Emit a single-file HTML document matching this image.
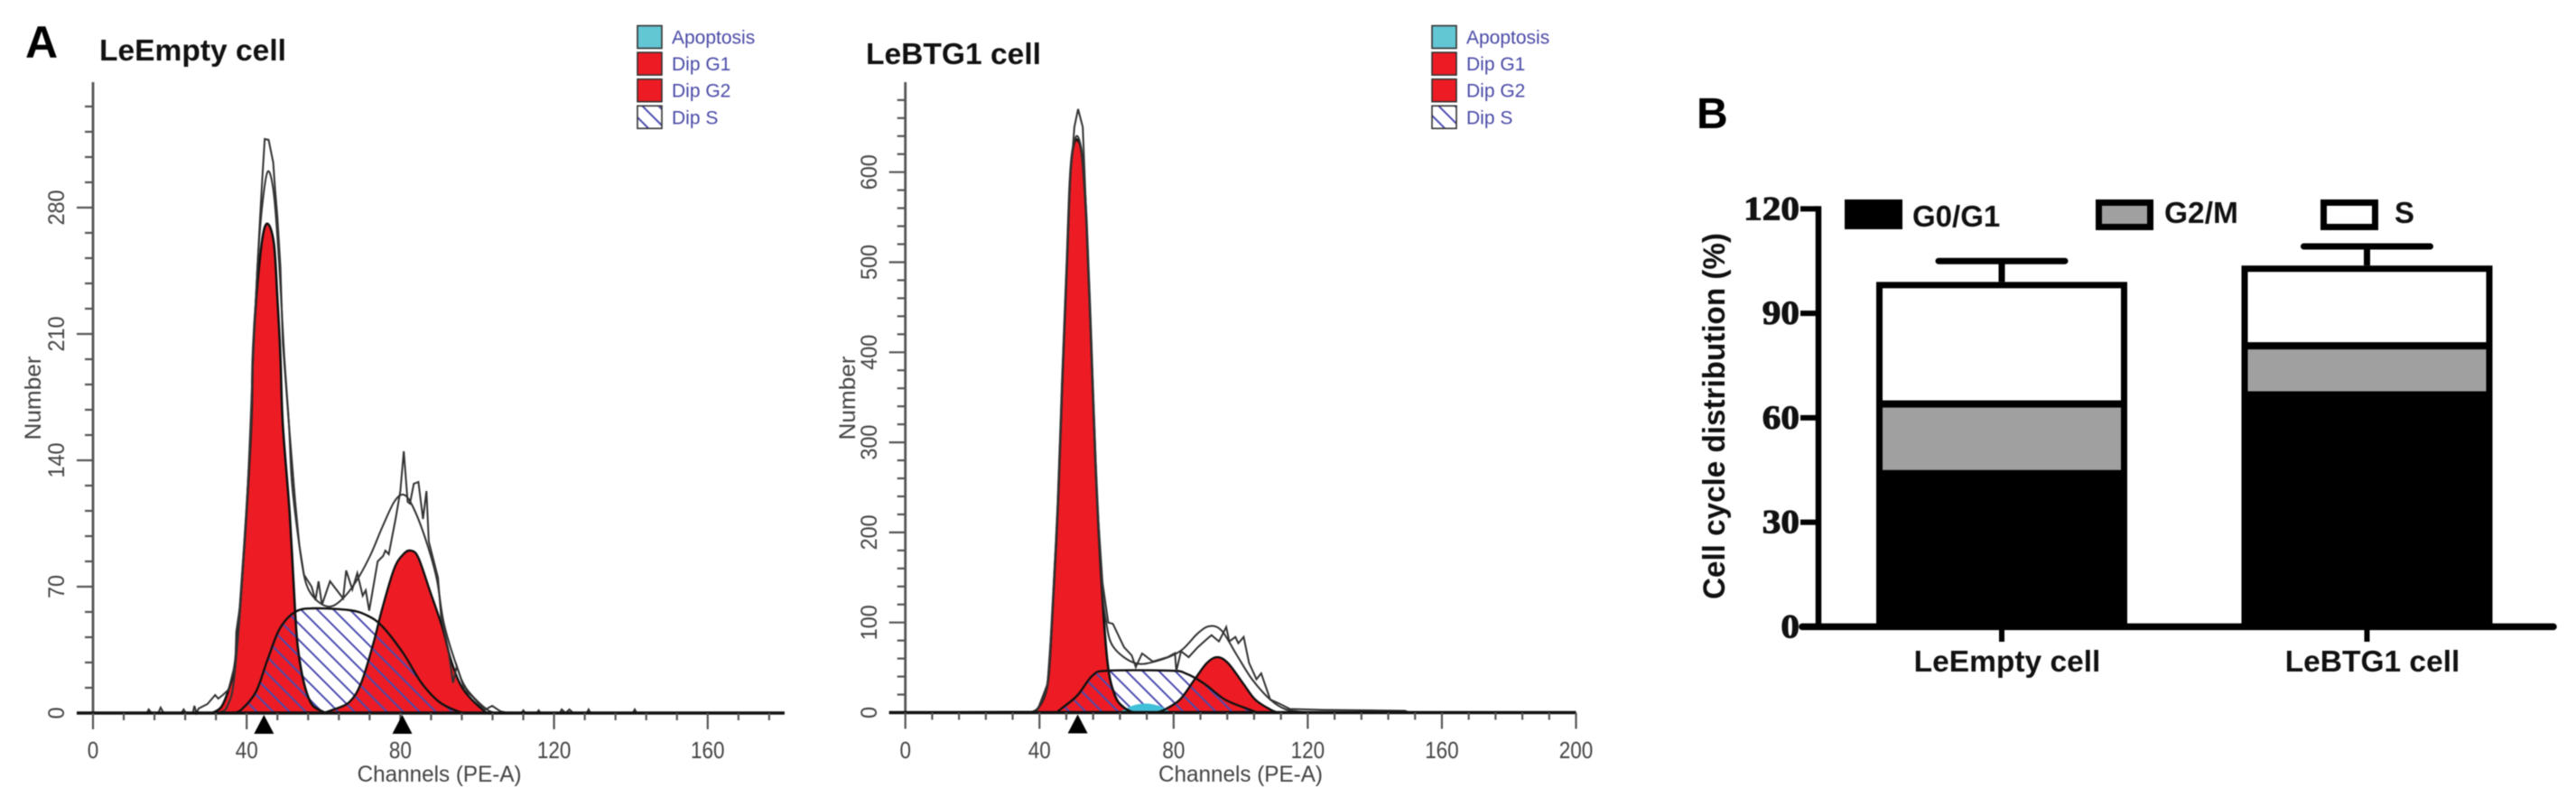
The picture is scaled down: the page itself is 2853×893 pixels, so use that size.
<!DOCTYPE html>
<html>
<head>
<meta charset="utf-8">
<title>Cell cycle flow cytometry figure</title>
<style>
html,body{margin:0;padding:0;background:#fff;width:2853px;height:893px;overflow:hidden}
svg{display:block;filter:blur(0.5px)}
text{font-family:"Liberation Sans",sans-serif}
</style>
</head>
<body>
<svg id="fig" xmlns="http://www.w3.org/2000/svg" width="2853" height="893" viewBox="0 0 2853 893">
<defs>
<pattern id="hatch" patternUnits="userSpaceOnUse" width="18" height="18">
<path d="M-2,-2 L20,20 M-20,-2 L2,20 M16,-2 L38,20" stroke="#4b4bb0" stroke-width="2" fill="none"/>
</pattern>
</defs>
<rect x="0" y="0" width="2853" height="893" fill="#fff"/>
<text x="28" y="64" font-size="50" font-weight="bold" fill="#000">A</text>
<text x="110" y="67" font-size="33.5" font-weight="bold" fill="#111" textLength="207" lengthAdjust="spacingAndGlyphs">LeEmpty cell</text>
<text x="959" y="71" font-size="33.5" font-weight="bold" fill="#111" textLength="194" lengthAdjust="spacingAndGlyphs">LeBTG1 cell</text>
<text x="1879" y="142" font-size="48" font-weight="bold" fill="#000">B</text>
<text transform="rotate(-90 1910 461)" x="1910" y="461" font-size="34" font-weight="bold" fill="#111" text-anchor="middle" textLength="406" lengthAdjust="spacingAndGlyphs">Cell cycle distribution (%)</text>
</svg>
<script>
// ---- Panel A-left: LeEmpty flow histogram (channel, count) ----
const emptyRawX = [0,14,14.5,15.2,17,17.6,18.4,23,23.6,24.2,26,26.4,26.9,27.5,29.8,31.8,32.6,33.8,35.3,36.7,37,37.3,38.3,39.9,41.2,41.6,42.8,43.5,44.1,44.7,45.7,46.9,47.4,48,48.8,49.4,51,52.6,53.7,54.9,56.9,57.9,58.7,59.6,61.7,65.1,65.9,67.5,68.8,70.2,71,71.9,74.1,75.5,76.1,77,78.8,80,80.9,81.9,82.5,83.5,84.7,85.9,86.8,87.4,89.8,90.6,92.5,93.7,94.7,96.7,98.8,101.9,103.9,106,108,111.5,112,112.5,115.5,116,116.5,121.5,122,123,124,125,128.5,129,129.5,140.5,141,141.5,180];
const emptyRawY = [0,0,2,0,0,3,0,0,2,0,0,4,0,2.5,5,10,8,10,13,25,25,45,60,110,160,197,247,275,297,318,317.5,305,290,275,247,205,160,118,93,76.7,70,62.5,73,60,73,63.5,79,68.5,77.5,65,68,56.7,84,87,90,88,108,123,145,117,116,127,128,107.5,123,95,75,53.5,35,16.7,26,13,9,1.7,4,1,0,0,1.5,0,0,1.5,0,0,2,0,2,0,0,2,0,0,2,0,0];
const emptyFitX = [33,35,37,39.9,41.7,42.8,44,45.5,47.1,48.5,49.8,51,51.8,53.7,55.3,57.7,61.2,64.3,68.2,72.1,75.3,78.4,80.8,83.1,86.3,89.4,91.3,94.5,97.2,102.7,106];
const emptyFitY = [0.5,4,24,110,197,247,280,300,287,247,197,160,127,93,73,63.5,59,62,72,87,103,117,121,115,98,75,50,27,13.5,1.7,0];
const emptyG1X = [31,33.4,35.3,36.9,38.3,39.9,41.2,41.6,42.5,44.1,45.5,47.1,48,48.8,49.4,51.2,52.6,53.3,54.9,56.9,59.6,61];
const emptyG1Y = [0,3.4,13,26.7,60,110,160,197,230,263,271,260,230,197,160,110,56.7,36.7,16.7,5,1,0];
const emptySX = [36,38.5,42.4,45.5,48.6,52.6,57.3,66.7,71.4,75.3,80.8,85.5,90.2,94.9,97];
const emptySY = [0,1.7,11.7,30,46.7,56,58,57,54,48,33,16.7,6,1,0];
const emptyG2X = [60,62,66.7,69.8,72.9,75.3,78.4,80.8,82.7,84.7,87.8,91,93.3,96.4,101.9,104];
const emptyG2Y = [0,1.5,6,16.7,38,58,80,88,90,86,67,47,28.5,13,1,0];
const emptyMarkers = [44.5,80.5];
const emptyXTicks = [0,40,80,120,160];
const emptyYTicks = [0,70,140,210,280];

// ---- Panel A-right: LeBTG1 flow histogram ----
const btgRawX = [0,30,38.8,39.7,42.4,43.7,45.5,46.8,48.2,49.1,50,50.4,51.5,52.9,54,55.4,57.2,58.8,60.5,61.9,65.2,67.5,68.7,70.6,73.8,78.2,80.4,80.8,82.2,84.5,87.2,89.9,91.3,93.5,95.7,96.6,98.4,99.3,100.9,102.5,104.7,106.1,108.8,111.5,114.7,124.5,149,150,200];
const btgRawY = [0,1,1,5.5,32,100,233,368,502,592,630,650,670,650,546,412,234,144,100,98.5,72.5,63.5,50.5,65.6,56.7,61.5,66,46,68,61.5,72.5,81.6,86,79,95,79,84,77,84,55,37,43.6,14.5,10,4,3,2,0.5,0];
const btgFitX = [38.8,39.7,42.4,43.7,45.5,46.8,48.2,49.1,50,51.3,52.7,54,55.4,56.7,58.5,59.9,62.1,68.4,74.7,81.9,87.2,90.8,94.4,98.9,103.4,108.8,113.5,119];
const btgFitY = [0.5,5.5,32,100,233,368,502,592,627,640,618,546,412,278,150,100,72.5,55,57,68,88,96,90.7,63.5,37,14.5,3.5,0.5];
const btgG1X = [37,39.7,42.4,43.7,45.5,46.8,48.2,49.1,50,51.3,52.7,54,55.4,56.7,58.5,60.3,62.5,65.2,68];
const btgG1Y = [0,5.5,32,100,233,368,502,592,627,636,618,546,412,278,144,55,19,5.5,0];
const btgSX = [45,46.9,51.3,55.8,60.3,79.2,83.6,89,95.3,102.5,105];
const btgSY = [0,5.5,19,41,46.5,46.5,43.5,32.5,14.5,3.5,0];
const btgG2X = [75,77.4,81.9,86.3,89.9,93,96.2,100.7,104.3,108.8,111];
const btgG2Y = [0,3.5,14.5,37,55,61.5,55,32.5,14.5,3.5,0];
const btgApopX = [63,64.5,68,72,76,79,80];
const btgApopY = [0,2,8,10,7,1,0];
const btgMarkers = [51.4];
const btgXTicks = [0,40,80,120,160,200];
const btgYTicks = [0,100,200,300,400,500,600];

// ---- Legend of the flow panels ----
const flowLegendLabels = ['Apoptosis','Dip G1','Dip G2','Dip S'];
const flowLegendFills = ['#63c6d3','#ed1c24','#ed1c24','hatch'];

// ---- Panel B: stacked bars ----
const barCategories = ['LeEmpty cell','LeBTG1 cell'];
const g0g1Values = [45,67.6];
const g2mValues = [20,14.1];
const sValues = [34,22];
const errorValues = [6,5.5];
const barYTicks = [0,30,60,90,120];

const svg = document.getElementById('fig');
const NS = 'http://www.w3.org/2000/svg';
function el(tag, attrs, text) {
  const e = document.createElementNS(NS, tag);
  for (const k in attrs) e.setAttribute(k, attrs[k]);
  if (text !== undefined) e.textContent = text;
  svg.appendChild(e);
  return e;
}
function linePath(xs, ys, fx, fy) {
  return xs.map((c, i) => (i ? 'L' : 'M') + fx(c).toFixed(1) + ',' + fy(ys[i]).toFixed(1)).join(' ');
}
function smoothPath(xs, ys, fx, fy) {
  const p = xs.map((c, i) => [fx(c), fy(ys[i])]);
  let d = 'M' + p[0][0].toFixed(1) + ',' + p[0][1].toFixed(1);
  for (let i = 0; i < p.length - 1; i++) {
    const a = p[Math.max(0, i - 1)], b = p[i], c = p[i + 1], e = p[Math.min(p.length - 1, i + 2)];
    const c1x = b[0] + (c[0] - a[0]) / 6, c1y = b[1] + (c[1] - a[1]) / 6;
    const c2x = c[0] - (e[0] - b[0]) / 6, c2y = c[1] - (e[1] - b[1]) / 6;
    d += ' C' + c1x.toFixed(1) + ',' + c1y.toFixed(1) + ' ' + c2x.toFixed(1) + ',' + c2y.toFixed(1) + ' ' + c[0].toFixed(1) + ',' + c[1].toFixed(1);
  }
  return d;
}

function drawFlowPanel(cfg) {
  const fx = cfg.fx, fy = cfg.fy, x0 = fx(0), y0 = fy(0);
  const sArea = smoothPath(cfg.sX, cfg.sY, fx, fy);
  const g1Area = smoothPath(cfg.g1X, cfg.g1Y, fx, fy);
  const g2Area = smoothPath(cfg.g2X, cfg.g2Y, fx, fy);

  const sBack = el('path', {d: sArea + ' Z', fill: '#fff'});
  
  

  const g1 = el('path', {d: g1Area + ' Z', fill: '#ed1c24'});
  
  

  const g2 = el('path', {d: g2Area + ' Z', fill: '#ed1c24'});
  
  

  const sHatch = el('path', {d: sArea + ' Z', fill: 'url(#hatch)'});
  
  

  if (cfg.apopX) {
    const ap = el('path', {d: smoothPath(cfg.apopX, cfg.apopY, fx, fy) + ' Z', fill: '#40c0d8'});
    
    
  }

  const g1Line = el('path', {d: g1Area, fill: 'none', stroke: '#111', 'stroke-width': 2.6});
  
  

  const g2Line = el('path', {d: g2Area, fill: 'none', stroke: '#111', 'stroke-width': 2.4});
  
  

  const sLine = el('path', {d: sArea, fill: 'none', stroke: '#111', 'stroke-width': 2.4});
  
  

  const fit = el('path', {d: smoothPath(cfg.fitX, cfg.fitY, fx, fy), fill: 'none', stroke: '#333', 'stroke-width': 2});
  
  

  const raw = el('path', {d: linePath(cfg.rawX, cfg.rawY, fx, fy), fill: 'none', stroke: '#333', 'stroke-width': 2});
  
  

  // y axis
  const yAxis = el('line', {x1: x0, x2: x0, y1: cfg.topY, y2: y0 + 1, stroke: '#555', 'stroke-width': 2.8});
  
  

  for (let v = 0; fy(v) >= cfg.topY + 8; v += cfg.yMinor) {
    const isMajor = cfg.yTicks.indexOf(v) >= 0;
    const t = el('line', {x1: x0 - (isMajor ? 18 : 9), x2: x0, y1: fy(v), y2: fy(v), stroke: '#555', 'stroke-width': 2.2});
    
    
  }
  cfg.yTicks.forEach(v => {
    const bx = cfg.yLabelX;
    const s = String(v);
    const lab = el('text', {x: bx, y: fy(v), transform: 'rotate(-90 ' + bx + ' ' + fy(v) + ')', 'font-size': 25, fill: '#444', 'text-anchor': 'middle', textLength: 13 * s.length, lengthAdjust: 'spacingAndGlyphs'}, s);
    
    
  });

  // x axis
  const xAxis = el('line', {x1: x0 - 18, x2: fx(cfg.xMax), y1: y0, y2: y0, stroke: '#111', 'stroke-width': 3.5});
  
  

  for (let v = 0; v <= cfg.xMax; v += 8) {
    const isMajor = cfg.xTicks.indexOf(v) >= 0;
    const t = el('line', {x1: fx(v), x2: fx(v), y1: y0, y2: y0 + (isMajor ? 18 : 8), stroke: '#555', 'stroke-width': 2.2});
    
    
  }
  cfg.xTicks.forEach(v => {
    const s = String(v);
    const lab = el('text', {x: fx(v), y: 840, 'font-size': 26, fill: '#444', 'text-anchor': 'middle', textLength: 12.5 * s.length, lengthAdjust: 'spacingAndGlyphs'}, s);
    
    
  });

  cfg.markers.forEach(m => {
    const mx = fx(m);
    const tri = el('path', {d: 'M' + mx + ',' + (y0 + 2) + ' L' + (mx + 11) + ',' + (y0 + 23) + ' L' + (mx - 11) + ',' + (y0 + 23) + ' Z', fill: '#000'});
    
    
  });

  const xTitle = el('text', {x: cfg.xTitleX, y: 866, 'font-size': 25, fill: '#444', 'text-anchor': 'middle', textLength: 182, lengthAdjust: 'spacingAndGlyphs'}, 'Channels (PE-A)');
  
  

  const yTitle = el('text', {x: cfg.yTitleX, y: 441, transform: 'rotate(-90 ' + cfg.yTitleX + ' 441)', 'font-size': 25, fill: '#444', 'text-anchor': 'middle', textLength: 93, lengthAdjust: 'spacingAndGlyphs'}, 'Number');
  
  

  // legend
  flowLegendLabels.forEach((name, i) => {
    const rowY = 28.5 + i * 29.6;
    const sw = el('rect', {x: cfg.legendX, y: rowY, width: 27, height: 25, fill: flowLegendFills[i] === 'hatch' ? 'url(#hatch)' : flowLegendFills[i], stroke: '#333', 'stroke-width': 1.6});
    
    
    const tx = el('text', {x: cfg.legendX + 38, y: rowY + 20, 'font-size': 21, fill: '#4a4aa8'}, name);
    
    
  });
}

const xEmpty = c => 103 + c * 4.255;
const yEmpty = n => 790 - n * 2;
const xBtg = c => 1002.7 + c * 3.714;
const yBtg = n => 789.5 - n * 0.998;

drawFlowPanel({id: 'leempty', fx: xEmpty, fy: yEmpty, topY: 91, xMax: 180, yMinor: 14, yTicks: emptyYTicks, xTicks: emptyXTicks,
  rawX: emptyRawX, rawY: emptyRawY, fitX: emptyFitX, fitY: emptyFitY, g1X: emptyG1X, g1Y: emptyG1Y, sX: emptySX, sY: emptySY, g2X: emptyG2X, g2Y: emptyG2Y,
  markers: emptyMarkers, yLabelX: 71, yTitleX: 45, xTitleX: 486.6, legendX: 706});
drawFlowPanel({id: 'lebtg1', fx: xBtg, fy: yBtg, topY: 91, xMax: 200, yMinor: 20, yTicks: btgYTicks, xTicks: btgXTicks,
  rawX: btgRawX, rawY: btgRawY, fitX: btgFitX, fitY: btgFitY, g1X: btgG1X, g1Y: btgG1Y, sX: btgSX, sY: btgSY, g2X: btgG2X, g2Y: btgG2Y, apopX: btgApopX, apopY: btgApopY,
  markers: btgMarkers, yLabelX: 971, yTitleX: 947, xTitleX: 1374, legendX: 1586});

// ---- Bar chart ----
const yBar = v => 694.4 - v * 3.859;
const barCenters = i => 2217 + i * 404.5;
const barHalf = 139;

barCategories.forEach((name, i) => {
  const cx = barCenters(i);
  const g0 = g0g1Values[i], g2 = g2mValues[i], s = sValues[i], err = errorValues[i];
  const total = g0 + g2 + s;

  const stem = el('line', {x1: cx, x2: cx, y1: yBar(total), y2: yBar(total + err), stroke: '#000', 'stroke-width': 7});
  
  

  const cap = el('line', {x1: cx - 70, x2: cx + 70, y1: yBar(total + err), y2: yBar(total + err), stroke: '#000', 'stroke-width': 7, 'stroke-linecap': 'round'});
  
  

  const outer = el('rect', {x: cx - barHalf, y: yBar(total), width: barHalf * 2, height: yBar(0) - yBar(total), fill: '#000'});
  
  

  const sRect = el('rect', {x: cx - barHalf + 7, y: yBar(total) + 7, width: barHalf * 2 - 14, height: yBar(g0 + g2) - yBar(total) - 7, fill: '#fff'});
  
  

  const g2Rect = el('rect', {x: cx - barHalf + 7, y: yBar(g0 + g2) + 8, width: barHalf * 2 - 14, height: yBar(g0) - yBar(g0 + g2) - 8, fill: '#a0a0a0'});
  
  

  const xt = el('line', {x1: cx, x2: cx, y1: yBar(0), y2: 711, stroke: '#000', 'stroke-width': 6});
  
  

  const lab = el('text', {x: cx + 6, y: 744, 'font-size': 33.5, 'font-weight': 'bold', fill: '#111', 'text-anchor': 'middle'}, name);
  
  
});

const barYAxis = el('line', {x1: 2014, x2: 2014, y1: yBar(120) - 3, y2: yBar(0), stroke: '#000', 'stroke-width': 6.5});



const barXAxis = el('line', {x1: 1996, x2: 2828, y1: yBar(0), y2: yBar(0), stroke: '#000', 'stroke-width': 7.5, 'stroke-linecap': 'round'});



barYTicks.forEach(v => {
  const t = el('line', {x1: 1994, x2: 2014, y1: yBar(v), y2: yBar(v), stroke: '#000', 'stroke-width': 6});
  
  
  const s = String(v);
  const lab = el('text', {x: 1993 - 20.6 * s.length, y: yBar(v) + 12, 'font-size': 37, 'font-weight': 'bold', fill: '#111', stroke: '#111', 'stroke-width': 1, textLength: 20.6 * s.length, lengthAdjust: 'spacingAndGlyphs', style: 'font-family:"Liberation Serif",serif'}, s);
  
  
});

// bar legend
const legG0 = el('rect', {x: 2043, y: 221, width: 64, height: 33, fill: '#000'});


const legG0T = el('text', {x: 2118, y: 251, 'font-size': 33, 'font-weight': 'bold', fill: '#111'}, 'G0/G1');


const legG2 = el('rect', {x: 2324.5, y: 224.5, width: 57, height: 27, fill: '#a0a0a0', stroke: '#000', 'stroke-width': 7});


const legG2T = el('text', {x: 2397, y: 247, 'font-size': 33.5, 'font-weight': 'bold', fill: '#111'}, 'G2/M');


const legS = el('rect', {x: 2573.5, y: 224.5, width: 57, height: 27, fill: '#fff', stroke: '#000', 'stroke-width': 7});


const legST = el('text', {x: 2652, y: 247, 'font-size': 33, 'font-weight': 'bold', fill: '#111'}, 'S');


</script>
</body>
</html>
